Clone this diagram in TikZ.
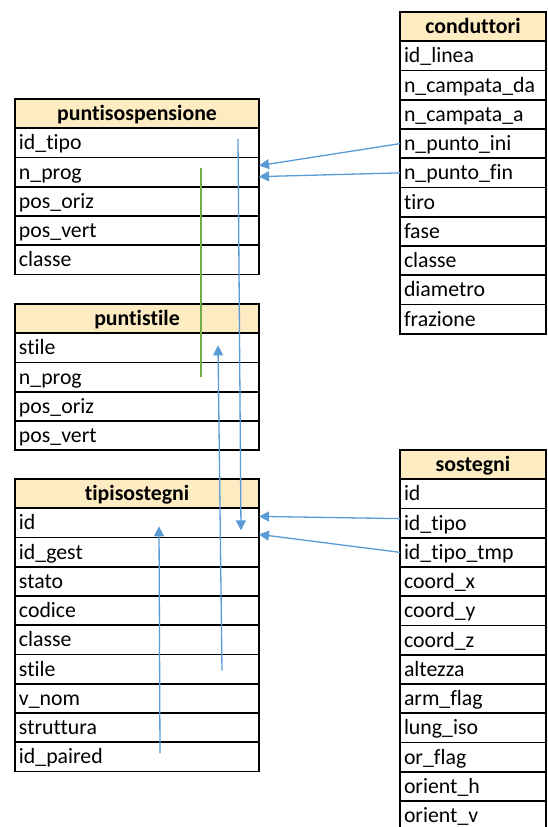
\documentclass[tikz,border=0pt]{standalone}
\usepackage{fontspec}
\setmainfont{Carlito}[Ligatures=NoCommon]
\usetikzlibrary{arrows.meta,calc}
\definecolor{hdrfill}{HTML}{FDEBC2}
\definecolor{fkblue}{HTML}{5B9BD5}
\definecolor{fkgreen}{HTML}{70AD47}
\begin{document}
\begin{tikzpicture}[x=1pt,y=-1pt,
  cell/.style={draw=black,line width=1.7pt,rectangle,inner xsep=4pt,inner ysep=0pt,outer sep=0pt,
    text height=18pt,text depth=4pt,
    minimum height=29.25pt,anchor=north west,font=\fontsize{21.8}{24}\selectfont},
  widecell/.style={cell,text width=236pt},
  narrowcell/.style={cell,text width=138pt},
  hdr/.style={fill=hdrfill,align=center,font=\fontsize{21.8}{24}\selectfont\bfseries},
  row/.style={align=left,fill=white},
  fk/.style={draw=fkblue,line width=1.3pt,-{Triangle[length=10pt,width=10pt]}},
  link/.style={draw=fkgreen,line width=1.3pt}]
\useasboundingbox (0,0) rectangle (547,827);
\fill[white] (0,0) rectangle (547,827);

% puntisospensione
\node[widecell,hdr] (ps-h) at (15,99) {puntisospensione};
\node[widecell,row] (ps-1) at (ps-h.south west) {id\_tipo};
\node[widecell,row] (ps-2) at (ps-1.south west) {n\_prog};
\node[widecell,row] (ps-3) at (ps-2.south west) {pos\_oriz};
\node[widecell,row] (ps-4) at (ps-3.south west) {pos\_vert};
\node[widecell,row] (ps-5) at (ps-4.south west) {classe};

% puntistile
\node[widecell,hdr] (pst-h) at (15,304) {puntistile};
\node[widecell,row] (pst-1) at (pst-h.south west) {stile};
\node[widecell,row] (pst-2) at (pst-1.south west) {n\_prog};
\node[widecell,row] (pst-3) at (pst-2.south west) {pos\_oriz};
\node[widecell,row] (pst-4) at (pst-3.south west) {pos\_vert};

% tipisostegni
\node[widecell,hdr] (ts-h) at (15,479) {tipisostegni};
\node[widecell,row] (ts-1) at (ts-h.south west) {id};
\node[widecell,row] (ts-2) at (ts-1.south west) {id\_gest};
\node[widecell,row] (ts-3) at (ts-2.south west) {stato};
\node[widecell,row] (ts-4) at (ts-3.south west) {codice};
\node[widecell,row] (ts-5) at (ts-4.south west) {classe};
\node[widecell,row] (ts-6) at (ts-5.south west) {stile};
\node[widecell,row] (ts-7) at (ts-6.south west) {v\_nom};
\node[widecell,row] (ts-8) at (ts-7.south west) {struttura};
\node[widecell,row] (ts-9) at (ts-8.south west) {id\_paired};

% conduttori
\node[narrowcell,hdr] (cd-h) at (400,12) {conduttori};
\node[narrowcell,row] (cd-1) at (cd-h.south west) {id\_linea};
\node[narrowcell,row] (cd-2) at (cd-1.south west) {n\_campata\_da};
\node[narrowcell,row] (cd-3) at (cd-2.south west) {n\_campata\_a};
\node[narrowcell,row] (cd-4) at (cd-3.south west) {n\_punto\_ini};
\node[narrowcell,row] (cd-5) at (cd-4.south west) {n\_punto\_fin};
\node[narrowcell,row] (cd-6) at (cd-5.south west) {tiro};
\node[narrowcell,row] (cd-7) at (cd-6.south west) {fase};
\node[narrowcell,row] (cd-8) at (cd-7.south west) {classe};
\node[narrowcell,row] (cd-9) at (cd-8.south west) {diametro};
\node[narrowcell,row] (cd-10) at (cd-9.south west) {frazione};

% sostegni
\node[narrowcell,hdr] (so-h) at (400,450) {sostegni};
\node[narrowcell,row] (so-1) at (so-h.south west) {id};
\node[narrowcell,row] (so-2) at (so-1.south west) {id\_tipo};
\node[narrowcell,row] (so-3) at (so-2.south west) {id\_tipo\_tmp};
\node[narrowcell,row] (so-4) at (so-3.south west) {coord\_x};
\node[narrowcell,row] (so-5) at (so-4.south west) {coord\_y};
\node[narrowcell,row] (so-6) at (so-5.south west) {coord\_z};
\node[narrowcell,row] (so-7) at (so-6.south west) {altezza};
\node[narrowcell,row] (so-8) at (so-7.south west) {arm\_flag};
\node[narrowcell,row] (so-9) at (so-8.south west) {lung\_iso};
\node[narrowcell,row] (so-10) at (so-9.south west) {or\_flag};
\node[narrowcell,row] (so-11) at (so-10.south west) {orient\_h};
\node[narrowcell,row] (so-12) at (so-11.south west) {orient\_v};

% connectors
\draw[fk] (cd-4.west) -- ([yshift=6.5pt]ps-2.east);
\draw[fk] (cd-5.west) -- ([yshift=-4.5pt]ps-2.east);
\draw[fk] ([xshift=-21pt,yshift=4pt]ps-1.east) -- ([xshift=-18pt,yshift=-7.5pt]ts-1.east);
\draw[fk] ([xshift=-37pt,yshift=-1.5pt]ts-6.east) -- ([xshift=-41pt,yshift=2.5pt]pst-1.east);
\draw[link] ([xshift=-58pt,yshift=4.5pt]ps-2.east) -- ([xshift=-58pt]pst-2.east);
\draw[fk] ([xshift=-99pt,yshift=3.5pt]ts-9.east) -- ([xshift=-100pt,yshift=-3.5pt]ts-1.east);
\draw[fk] ([yshift=4.5pt]so-2.west) -- ([yshift=6.5pt]ts-1.east);
\draw[fk] (so-3.west) -- ([yshift=-11.5pt]ts-1.east);
\end{tikzpicture}
\end{document}
